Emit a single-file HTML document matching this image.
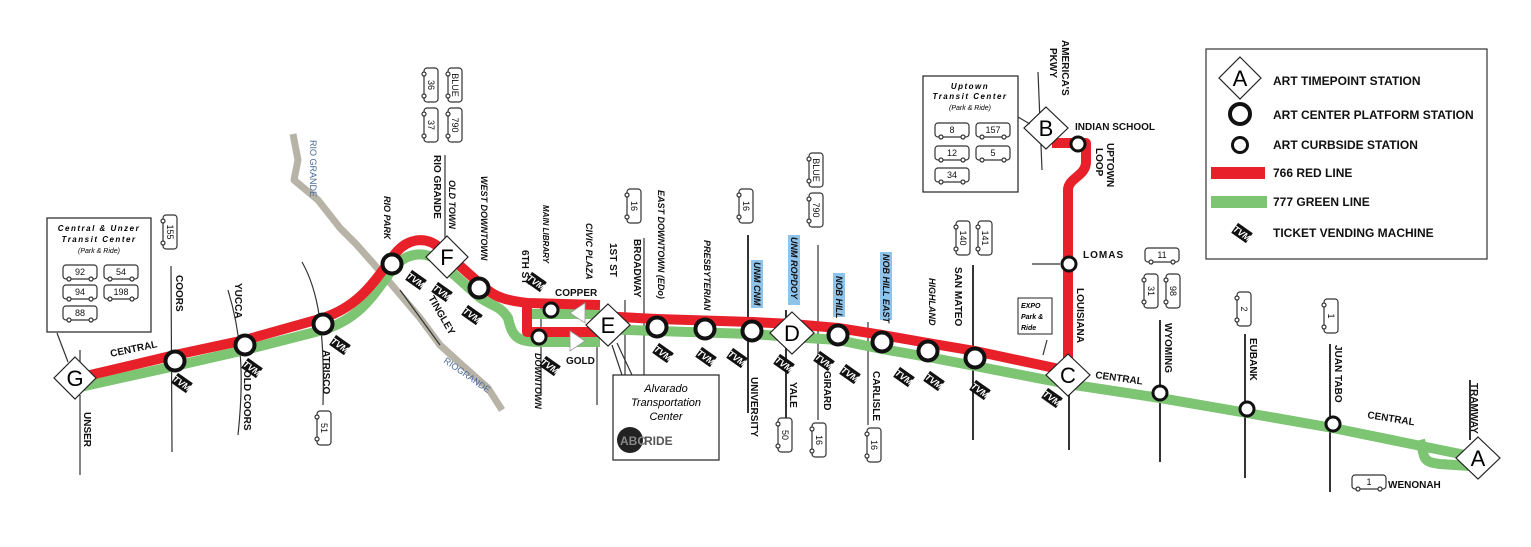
<!DOCTYPE html>
<html><head><meta charset="utf-8"><style>
html,body{margin:0;padding:0;background:#fff;}
svg{display:block;font-family:"Liberation Sans",sans-serif;}
.lbl{font-size:10px;font-weight:bold;fill:#111;}
.it{font-size:9px;font-weight:bold;font-style:italic;fill:#111;}
.hl{fill:#8fc3ea;}
.st{fill:#fff;stroke:#111;stroke-width:4;}
.cs{fill:#fff;stroke:#111;stroke-width:3;}
.dm{fill:#fff;stroke:#222;stroke-width:1.2;}
.dl{font-size:22px;fill:#000;text-anchor:middle;}
.tk{stroke:#333;stroke-width:1.2;fill:none;}
.bus{fill:#fff;stroke:#333;stroke-width:1.2;}
.bn{font-size:9px;fill:#111;text-anchor:middle;}
</style></head><body>
<svg width="1531" height="547" viewBox="0 0 1531 547" xmlns="http://www.w3.org/2000/svg">
<defs>
<g id="tvm"><rect x="-9" y="-6" width="18" height="12" fill="#111"/><text x="0" y="3.5" font-size="9" font-weight="bold" font-style="italic" fill="#fff" text-anchor="middle">TVM</text></g>
<g id="bv"><rect x="-7" y="-17" width="14" height="34" rx="3" class="bus"/><circle cx="-7" cy="-11" r="2" class="bus"/><circle cx="-7" cy="11" r="2" class="bus"/></g>
<g id="bh"><rect x="-17" y="-7" width="34" height="14" rx="3" class="bus"/><circle cx="-11" cy="7" r="2" class="bus"/><circle cx="11" cy="7" r="2" class="bus"/></g>
</defs>

<!-- river -->
<path d="M293,134 L298,160 L294,180 L318,200 L340,228 L356,244 L372,262 L392,285 L420,318 L440,345 L462,365 L488,388 L502,410" fill="none" stroke="#b7b3a6" stroke-width="7" stroke-linejoin="round"/>
<text transform="translate(310,140) rotate(90)" font-size="9" fill="#4a6a9a">RIO GRANDE</text>
<text transform="translate(443,362) rotate(35)" font-size="9" fill="#4a6a9a">RIOGRANDE</text>

<!-- tick lines -->
<g class="tk">
<line x1="80" y1="395" x2="80" y2="475"/><line x1="80" y1="350" x2="80" y2="365"/>
<line x1="171" y1="266" x2="172" y2="452"/>
<path d="M228,290 C240,330 245,370 238,435"/>
<path d="M302,262 C318,290 325,330 323,405"/>
<path d="M400,290 L440,345"/>
<line x1="445" y1="155" x2="445" y2="245"/>
<line x1="541" y1="300" x2="541" y2="395"/>
<line x1="597" y1="300" x2="597" y2="405"/>
<line x1="625" y1="300" x2="625" y2="380"/>
<line x1="644" y1="238" x2="644" y2="375"/>
<line x1="748" y1="235" x2="748" y2="413" stroke-width="2"/>
<line x1="786" y1="310" x2="786" y2="420" stroke-width="2"/>
<line x1="818" y1="245" x2="818" y2="420"/>
<line x1="868" y1="322" x2="868" y2="425"/>
<line x1="973" y1="265" x2="973" y2="440" stroke-width="2"/>
<line x1="1069" y1="380" x2="1069" y2="450" stroke-width="2"/>
<line x1="1032" y1="264" x2="1060" y2="264"/>
<line x1="1038" y1="72" x2="1042" y2="170"/>
<line x1="1160" y1="320" x2="1160" y2="462" stroke-width="2"/>
<line x1="1245" y1="334" x2="1245" y2="478" stroke-width="2"/>
<line x1="1330" y1="344" x2="1330" y2="492" stroke-width="2"/>
<line x1="1470" y1="380" x2="1470" y2="440" stroke-width="2"/>
</g>

<!-- green line -->
<g fill="none" stroke="#7dc473" stroke-width="10" stroke-linejoin="round">
<path d="M80,387 L175,366 L245,350 L323,330 C362,318 375,292 392,270 C405,252 425,250 440,262 L478,296 C490,306 500,305 508,318 C512,335 515,342 540,342 L600,342"/>
<path d="M528,314 L600,314"/>
<path d="M600,329 L657,331 L752,334 L792,337 L838,340 L882,349 L928,357 L975,366 L1068,384 L1160,398 L1247,413 L1333,428 L1470,456"/>
<path d="M1420,440 L1424,456 C1426,462 1432,463 1440,464 L1470,466"/>
</g>
<!-- red line -->
<g fill="none" stroke="#e8202a" stroke-width="10" stroke-linejoin="round">
<path d="M86,376 L175,355 L245,340 L323,318 C360,306 375,280 392,258 C405,238 425,235 440,248 L478,282 C492,295 500,300 528,303 L600,305"/>
<path d="M527,303 L527,332 L600,332"/>
<path d="M600,316 L657,319 L752,322 L792,324 L838,328 L882,335 L928,343 L975,351 L1064,370"/>
<path d="M1068,372 L1068,190 C1068,178 1086,176 1086,162 L1086,143 L1052,143"/>
</g>

<polygon points="570,313 585,303 585,323" fill="#fff" stroke="#999" stroke-width="0.8"/>
<polygon points="585,341 570,331 570,351" fill="#fff" stroke="#999" stroke-width="0.8"/>

<g class="st">
<circle cx="175" cy="361" r="9.5"/><circle cx="245" cy="345" r="9.5"/><circle cx="323" cy="324" r="9.5"/>
<circle cx="392" cy="264" r="9.5"/><circle cx="479" cy="288" r="9.5"/>
<circle cx="657" cy="327" r="9.5"/><circle cx="705" cy="329" r="9.5"/><circle cx="752" cy="331" r="9.5"/>
<circle cx="838" cy="335" r="9.5"/><circle cx="882" cy="342" r="9.5"/><circle cx="928" cy="351" r="9.5"/><circle cx="975" cy="358" r="9.5"/>
</g>
<g class="cs">
<circle cx="551" cy="310" r="7"/><circle cx="539" cy="337" r="7"/>
<circle cx="1078" cy="144" r="7"/><circle cx="1069" cy="264" r="7"/>
<circle cx="1160" cy="393" r="7"/><circle cx="1247" cy="409" r="7"/><circle cx="1333" cy="424" r="7"/>
</g>

<g>
<polygon class="dm" points="75,357 96,378 75,399 54,378"/><text class="dl" x="75" y="386">G</text>
<polygon class="dm" points="447,236 468,257 447,278 426,257"/><text class="dl" x="447" y="265">F</text>
<polygon class="dm" points="608,304 630,325 608,346 586,325"/><text class="dl" x="608" y="333">E</text>
<polygon class="dm" points="792,312 814,333 792,354 770,333"/><text class="dl" x="792" y="341">D</text>
<polygon class="dm" points="1068,354 1090,375 1068,396 1046,375"/><text class="dl" x="1068" y="383">C</text>
<polygon class="dm" points="1046,107 1068,128 1046,149 1024,128"/><text class="dl" x="1046" y="136">B</text>
<polygon class="dm" points="1478,437 1500,458 1478,479 1456,458"/><text class="dl" x="1478" y="466">A</text>
</g>

<g class="tk">
<line x1="57" y1="333" x2="68" y2="362"/>
<line x1="1018" y1="117" x2="1030" y2="124"/>
<line x1="612" y1="345" x2="622" y2="375"/><line x1="617" y1="343" x2="632" y2="375"/>
<line x1="1043" y1="355" x2="1047" y2="340"/>
</g>

<text class="lbl" transform="translate(111,357) rotate(-12)">CENTRAL</text>
<text class="lbl" x="555" y="296">COPPER</text>
<text class="lbl" x="566" y="364">GOLD</text>
<text class="lbl" x="1075" y="130">INDIAN SCHOOL</text>
<text class="lbl" x="1083" y="258" letter-spacing="1">LOMAS</text>
<text class="lbl" transform="translate(1095,378) rotate(8)">CENTRAL</text>
<text class="lbl" transform="translate(1367,418) rotate(9)">CENTRAL</text>
<text class="lbl" x="1388" y="488">WENONAH</text>

<g class="lbl">
<text transform="translate(84,412) rotate(90)">UNSER</text>
<text transform="translate(176,275) rotate(90)">COORS</text>
<text transform="translate(235,283) rotate(90)">YUCCA</text>
<text transform="translate(244,370) rotate(90)">OLD COORS</text>
<text transform="translate(323,350) rotate(90)">ATRISCO</text>
<text transform="translate(428,298) rotate(60)">TINGLEY</text>
<text transform="translate(434,155) rotate(90)">RIO GRANDE</text>
<text transform="translate(522,250) rotate(90)">6TH ST</text>
<text transform="translate(610,243) rotate(90)">1ST ST</text>
<text transform="translate(634,239) rotate(90)">BROADWAY</text>
<text transform="translate(751,377) rotate(90)">UNIVERSITY</text>
<text transform="translate(790,382) rotate(90)">YALE</text>
<text transform="translate(824,371) rotate(90)">GIRARD</text>
<text transform="translate(873,371) rotate(90)">CARLISLE</text>
<text transform="translate(955,267) rotate(90)">SAN MATEO</text>
<text transform="translate(1062,40) rotate(90)">AMERICA'S</text>
<text transform="translate(1050,48) rotate(90)">PKWY</text>
<text transform="translate(1107,143) rotate(90)">UPTOWN</text>
<text transform="translate(1096,148) rotate(90)">LOOP</text>
<text transform="translate(1077,288) rotate(90)">LOUISIANA</text>
<text transform="translate(1165,323) rotate(90)">WYOMING</text>
<text transform="translate(1250,338) rotate(90)">EUBANK</text>
<text transform="translate(1335,345) rotate(90)">JUAN TABO</text>
<text transform="translate(1471,383) rotate(90)">TRAMWAY</text>
</g>
<g class="it">
<text transform="translate(384,196) rotate(90)">RIO PARK</text>
<text transform="translate(449,180) rotate(90)">OLD TOWN</text>
<text transform="translate(481,176) rotate(90)">WEST DOWNTOWN</text>
<text transform="translate(543,205) rotate(90)" font-size="8">MAIN LIBRARY</text>
<text transform="translate(586,223) rotate(90)">CIVIC PLAZA</text>
<text transform="translate(535,353) rotate(90)">DOWNTOWN</text>
<text transform="translate(658,190) rotate(90)">EAST DOWNTOWN (EDo)</text>
<text transform="translate(704,240) rotate(90)">PRESBYTERIAN</text>
<rect class="hl" x="751" y="260" width="12" height="48"/>
<text transform="translate(754,262) rotate(90)">UNM CNM</text>
<rect class="hl" x="788" y="235" width="12" height="70"/>
<text transform="translate(791,237) rotate(90)">UNM ROPDOY</text>
<rect class="hl" x="833" y="273" width="12" height="44"/>
<text transform="translate(836,276) rotate(90)">NOB HILL</text>
<rect class="hl" x="880" y="252" width="12" height="68"/>
<text transform="translate(883,254) rotate(90)">NOB HILL EAST</text>
<text transform="translate(929,278) rotate(90)">HIGHLAND</text>
</g>

<g>
<use href="#tvm" transform="translate(182,383) rotate(35)"/>
<use href="#tvm" transform="translate(252,368) rotate(35)"/>
<use href="#tvm" transform="translate(340,345) rotate(35)"/>
<use href="#tvm" transform="translate(416,280) rotate(35)"/>
<use href="#tvm" transform="translate(442,292) rotate(35)"/>
<use href="#tvm" transform="translate(472,315) rotate(35)"/>
<use href="#tvm" transform="translate(536,282) rotate(35)"/>
<use href="#tvm" transform="translate(550,366) rotate(35)"/>
<use href="#tvm" transform="translate(663,353) rotate(35)"/>
<use href="#tvm" transform="translate(706,357) rotate(35)"/>
<use href="#tvm" transform="translate(737,358) rotate(35)"/>
<use href="#tvm" transform="translate(784,364) rotate(35)"/>
<use href="#tvm" transform="translate(824,361) rotate(35)"/>
<use href="#tvm" transform="translate(850,374) rotate(35)"/>
<use href="#tvm" transform="translate(904,377) rotate(35)"/>
<use href="#tvm" transform="translate(934,381) rotate(35)"/>
<use href="#tvm" transform="translate(980,390) rotate(35)"/>
<use href="#tvm" transform="translate(1052,398) rotate(35)"/>
<use href="#tvm" transform="translate(700,430) rotate(35)"/>
<use href="#tvm" transform="translate(122,315) rotate(35)"/>
<use href="#tvm" transform="translate(1000,177) rotate(35)"/>
<use href="#tvm" transform="translate(1243,232) rotate(35)"/>
</g>

<g>
<use href="#bv" x="170" y="232"/><text class="bn" transform="translate(167,232) rotate(90)">155</text>
<use href="#bv" x="324" y="428"/><text class="bn" transform="translate(321,428) rotate(90)">51</text>
<use href="#bv" x="431" y="85"/><text class="bn" transform="translate(428,85) rotate(90)">36</text>
<use href="#bv" x="431" y="125"/><text class="bn" transform="translate(428,125) rotate(90)">37</text>
<use href="#bv" x="455" y="85"/><text class="bn" transform="translate(452,85) rotate(90)">BLUE</text>
<use href="#bv" x="455" y="125"/><text class="bn" transform="translate(452,125) rotate(90)">790</text>
<use href="#bv" x="634" y="206"/><text class="bn" transform="translate(631,206) rotate(90)">16</text>
<use href="#bv" x="746" y="206"/><text class="bn" transform="translate(743,206) rotate(90)">16</text>
<use href="#bv" x="816" y="170"/><text class="bn" transform="translate(813,170) rotate(90)">BLUE</text>
<use href="#bv" x="816" y="210"/><text class="bn" transform="translate(813,210) rotate(90)">790</text>
<use href="#bv" x="785" y="435"/><text class="bn" transform="translate(782,435) rotate(90)">50</text>
<use href="#bv" x="819" y="440"/><text class="bn" transform="translate(816,440) rotate(90)">16</text>
<use href="#bv" x="874" y="445"/><text class="bn" transform="translate(871,445) rotate(90)">16</text>
<use href="#bv" x="963" y="238"/><text class="bn" transform="translate(960,238) rotate(90)">140</text>
<use href="#bv" x="985" y="238"/><text class="bn" transform="translate(982,238) rotate(90)">141</text>
<use href="#bv" x="1151" y="291"/><text class="bn" transform="translate(1148,291) rotate(90)">31</text>
<use href="#bv" x="1173" y="291"/><text class="bn" transform="translate(1170,291) rotate(90)">98</text>
<use href="#bv" x="1244" y="309"/><text class="bn" transform="translate(1241,309) rotate(90)">2</text>
<use href="#bv" x="1331" y="316"/><text class="bn" transform="translate(1328,316) rotate(90)">1</text>
<use href="#bh" x="1162" y="255"/><text class="bn" x="1162" y="258">11</text>
<use href="#bh" x="1369" y="482"/><text class="bn" x="1369" y="485">1</text>
</g>

<rect x="47" y="218" width="104" height="114" fill="#fff" stroke="#222" stroke-width="1.2"/>
<text x="99" y="231" font-size="8" font-weight="bold" font-style="italic" text-anchor="middle" letter-spacing="1.5">Central &amp; Unzer</text>
<text x="99" y="242" font-size="8" font-weight="bold" font-style="italic" text-anchor="middle" letter-spacing="1.5">Transit Center</text>
<text x="99" y="253" font-size="7" font-style="italic" text-anchor="middle">(Park &amp; Ride)</text>
<use href="#bh" x="80" y="272"/><text class="bn" x="80" y="275">92</text>
<use href="#bh" x="121" y="272"/><text class="bn" x="121" y="275">54</text>
<use href="#bh" x="80" y="292"/><text class="bn" x="80" y="295">94</text>
<use href="#bh" x="121" y="292"/><text class="bn" x="121" y="295">198</text>
<use href="#bh" x="80" y="313"/><text class="bn" x="80" y="316">88</text>

<rect x="923" y="76" width="95" height="116" fill="#fff" stroke="#222" stroke-width="1.2"/>
<text x="970" y="89" font-size="8" font-weight="bold" font-style="italic" text-anchor="middle" letter-spacing="1.5">Uptown</text>
<text x="970" y="99" font-size="8" font-weight="bold" font-style="italic" text-anchor="middle" letter-spacing="1.5">Transit Center</text>
<text x="970" y="110" font-size="7" font-style="italic" text-anchor="middle">(Park &amp; Ride)</text>
<use href="#bh" x="952" y="130"/><text class="bn" x="952" y="133">8</text>
<use href="#bh" x="993" y="130"/><text class="bn" x="993" y="133">157</text>
<use href="#bh" x="952" y="153"/><text class="bn" x="952" y="156">12</text>
<use href="#bh" x="993" y="153"/><text class="bn" x="993" y="156">5</text>
<use href="#bh" x="952" y="175"/><text class="bn" x="952" y="178">34</text>

<rect x="1018" y="298" width="34" height="36" fill="#fff" stroke="#222" stroke-width="1"/>
<text x="1021" y="308" font-size="7" font-style="italic" font-weight="bold">EXPO</text>
<text x="1021" y="319" font-size="7" font-style="italic" font-weight="bold">Park &amp;</text>
<text x="1021" y="330" font-size="7" font-style="italic" font-weight="bold">Ride</text>

<rect x="613" y="375" width="106" height="85" fill="#fff" stroke="#222" stroke-width="1.2"/>
<text x="666" y="392" font-size="11" font-style="italic" text-anchor="middle">Alvarado</text>
<text x="666" y="406" font-size="11" font-style="italic" text-anchor="middle">Transportation</text>
<text x="666" y="420" font-size="11" font-style="italic" text-anchor="middle">Center</text>
<circle cx="630" cy="440" r="13" fill="#222"/>
<text x="620" y="445" font-size="12" fill="#888" font-weight="bold">ABC</text>
<text x="644" y="445" font-size="12" fill="#555" font-weight="bold">RIDE</text>

<rect x="1206" y="49" width="281" height="210" fill="#fff" stroke="#333" stroke-width="1.2"/>
<polygon class="dm" points="1240,57 1261,78 1240,99 1219,78"/><text class="dl" x="1240" y="86">A</text>
<circle cx="1240" cy="114" r="10" class="st"/>
<circle cx="1240" cy="145" r="7.5" class="cs"/>
<rect x="1211" y="167" width="54" height="12" fill="#e8202a"/>
<rect x="1211" y="196" width="56" height="12" fill="#7dc473"/>
<use href="#tvm" transform="translate(1242,233) rotate(35)"/>
<g font-size="12" font-weight="bold" fill="#111">
<text x="1273" y="85">ART TIMEPOINT STATION</text>
<text x="1273" y="119">ART CENTER PLATFORM STATION</text>
<text x="1273" y="149">ART CURBSIDE STATION</text>
<text x="1273" y="177">766 RED LINE</text>
<text x="1273" y="206">777 GREEN LINE</text>
<text x="1273" y="237">TICKET VENDING MACHINE</text>
</g>
</svg>
</body></html>
